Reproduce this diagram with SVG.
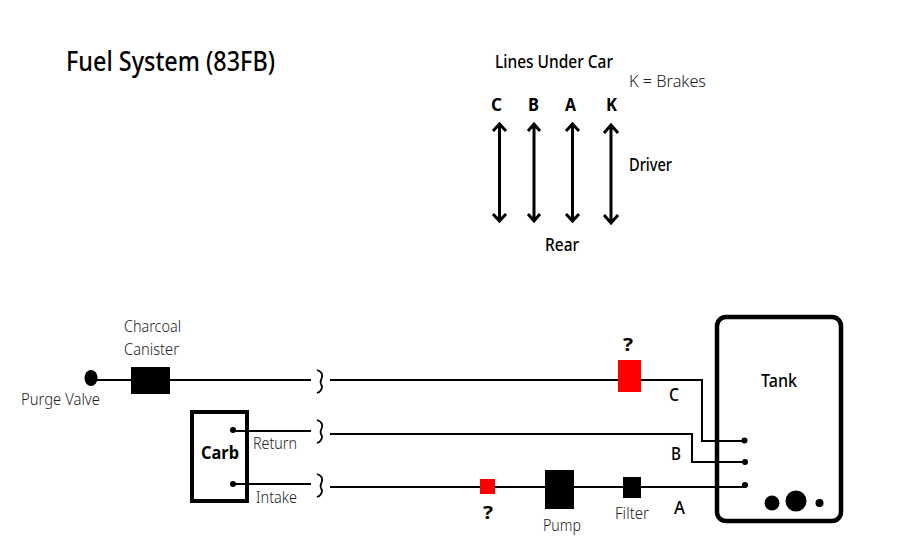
<svg xmlns="http://www.w3.org/2000/svg" width="900" height="559" viewBox="0 0 900 559">
<defs>
<style>
text{font-family:"Noto Sans","Open Sans","Liberation Sans",sans-serif;fill:#000}
.b{font-weight:700;font-size:18px}
.m{font-size:18px;font-weight:500}
.l{font-size:17px;font-weight:300;fill:#222}
.w{fill:none;stroke:#000;stroke-width:2}
.a{fill:none;stroke:#000;stroke-width:3}
.br{fill:none;stroke:#000;stroke-width:1.800}
.f{fill:#000}
.r{fill:#f00}
</style>
</defs>
<rect width="900" height="559" fill="#fff"/>
<g id="title"><text x="66" y="71" style="font-size:27px;font-weight:500" textLength="209" lengthAdjust="spacingAndGlyphs">Fuel System (83FB)</text></g>
<g id="legend">
<text class="m" x="495" y="68" textLength="118" lengthAdjust="spacingAndGlyphs">Lines Under Car</text>
<text class="l" x="629" y="87" textLength="77" lengthAdjust="spacingAndGlyphs">K = Brakes</text>
<text class="b" x="491" y="111" textLength="11" lengthAdjust="spacingAndGlyphs">C</text>
<text class="b" x="528" y="111" textLength="11" lengthAdjust="spacingAndGlyphs">B</text>
<text class="b" x="565" y="111" textLength="11" lengthAdjust="spacingAndGlyphs">A</text>
<text class="b" x="606" y="111" textLength="11" lengthAdjust="spacingAndGlyphs">K</text>
<text class="m" x="629" y="171" textLength="43" lengthAdjust="spacingAndGlyphs">Driver</text>
<text class="m" x="545" y="251" textLength="34" lengthAdjust="spacingAndGlyphs">Rear</text>
</g>
<g id="legend-arrows">
<path class="a" d="M499.500 124V221M493 131L499.500 124L506 131M493 214L499.500 221L506 214"/>
<path class="a" d="M534 124V221M528 131L534 124L540 131M528 214L534 221L540 214"/>
<path class="a" d="M572.500 124V221M566 131L572.500 124L579 131M566 214L572.500 221L579 214"/>
<path class="a" d="M611 125V223M604 133L611 125L618 133M604 215L611 223L618 215"/>
</g>
<g id="connectors">
<path class="w" d="M91 380H311M330 380H702V441H744"/>
<path class="w" d="M233 431H311M330 434H692V462H745"/>
<path class="w" d="M233 484H311M330 487H745"/>
<path class="br" d="M317 370C323 372 323 376 321 380C320 382 321 385 322 386C322 389 320 392 317 393"/>
<path class="br" d="M317 420C323 422 323 426 321 430C320 432 321 435 322 436C322 439 320 442 317 443"/>
<path class="br" d="M317 474C323 476 323 480 321 484C320 486 321 489 322 490C322 493 320 496 317 497"/>
</g>
<g id="purge-valve"><ellipse class="f" cx="91" cy="378" rx="6.500" ry="8"/><text class="l" x="21" y="405" textLength="79" lengthAdjust="spacingAndGlyphs">Purge Valve</text></g>
<g id="canister"><rect class="f" x="131" y="367" width="39" height="27"/><text class="l" x="124" y="332" textLength="57" lengthAdjust="spacingAndGlyphs">Charcoal</text><text class="l" x="124" y="355" textLength="55" lengthAdjust="spacingAndGlyphs">Canister</text></g>
<g id="carb"><rect x="192" y="412" width="55" height="89" fill="none" stroke="#000" stroke-width="4"/><text class="b" x="201" y="459" textLength="38" lengthAdjust="spacingAndGlyphs">Carb</text><circle class="f" cx="233" cy="430" r="3"/><circle class="f" cx="233" cy="484" r="3"/><text class="l" x="253" y="449" textLength="44" lengthAdjust="spacingAndGlyphs">Return</text><text class="l" x="256" y="503" textLength="41" lengthAdjust="spacingAndGlyphs">Intake</text></g>
<g id="red-c"><rect class="r" x="618" y="360" width="23" height="32"/><text class="b" x="623" y="351" textLength="10" lengthAdjust="spacingAndGlyphs">?</text></g>
<g id="red-a"><rect class="r" x="480" y="479" width="15" height="15"/><text class="b" x="483" y="519" textLength="10" lengthAdjust="spacingAndGlyphs">?</text></g>
<g id="pump"><rect class="f" x="545" y="470" width="29" height="39"/><text class="l" x="543" y="531" textLength="38" lengthAdjust="spacingAndGlyphs">Pump</text></g>
<g id="filter"><rect class="f" x="623" y="477" width="18" height="21"/><text class="l" x="615" y="519" textLength="34" lengthAdjust="spacingAndGlyphs">Filter</text></g>
<g id="line-labels"><text class="m" x="669" y="401" textLength="10" lengthAdjust="spacingAndGlyphs">C</text><text class="m" x="671" y="460" textLength="10" lengthAdjust="spacingAndGlyphs">B</text><text class="m" x="674" y="514" textLength="11" lengthAdjust="spacingAndGlyphs">A</text></g>
<g id="tank"><rect x="717" y="317" width="124" height="204" rx="9" fill="none" stroke="#000" stroke-width="4.500"/><text class="m" x="761" y="387" textLength="36" lengthAdjust="spacingAndGlyphs">Tank</text><circle class="f" cx="744.500" cy="440.500" r="3"/><circle class="f" cx="745" cy="462" r="3"/><circle class="f" cx="745" cy="485" r="3"/><circle class="f" cx="772" cy="503" r="7.500"/><circle class="f" cx="796" cy="501" r="10.500"/><circle class="f" cx="819.500" cy="503" r="4"/></g>
</svg>
